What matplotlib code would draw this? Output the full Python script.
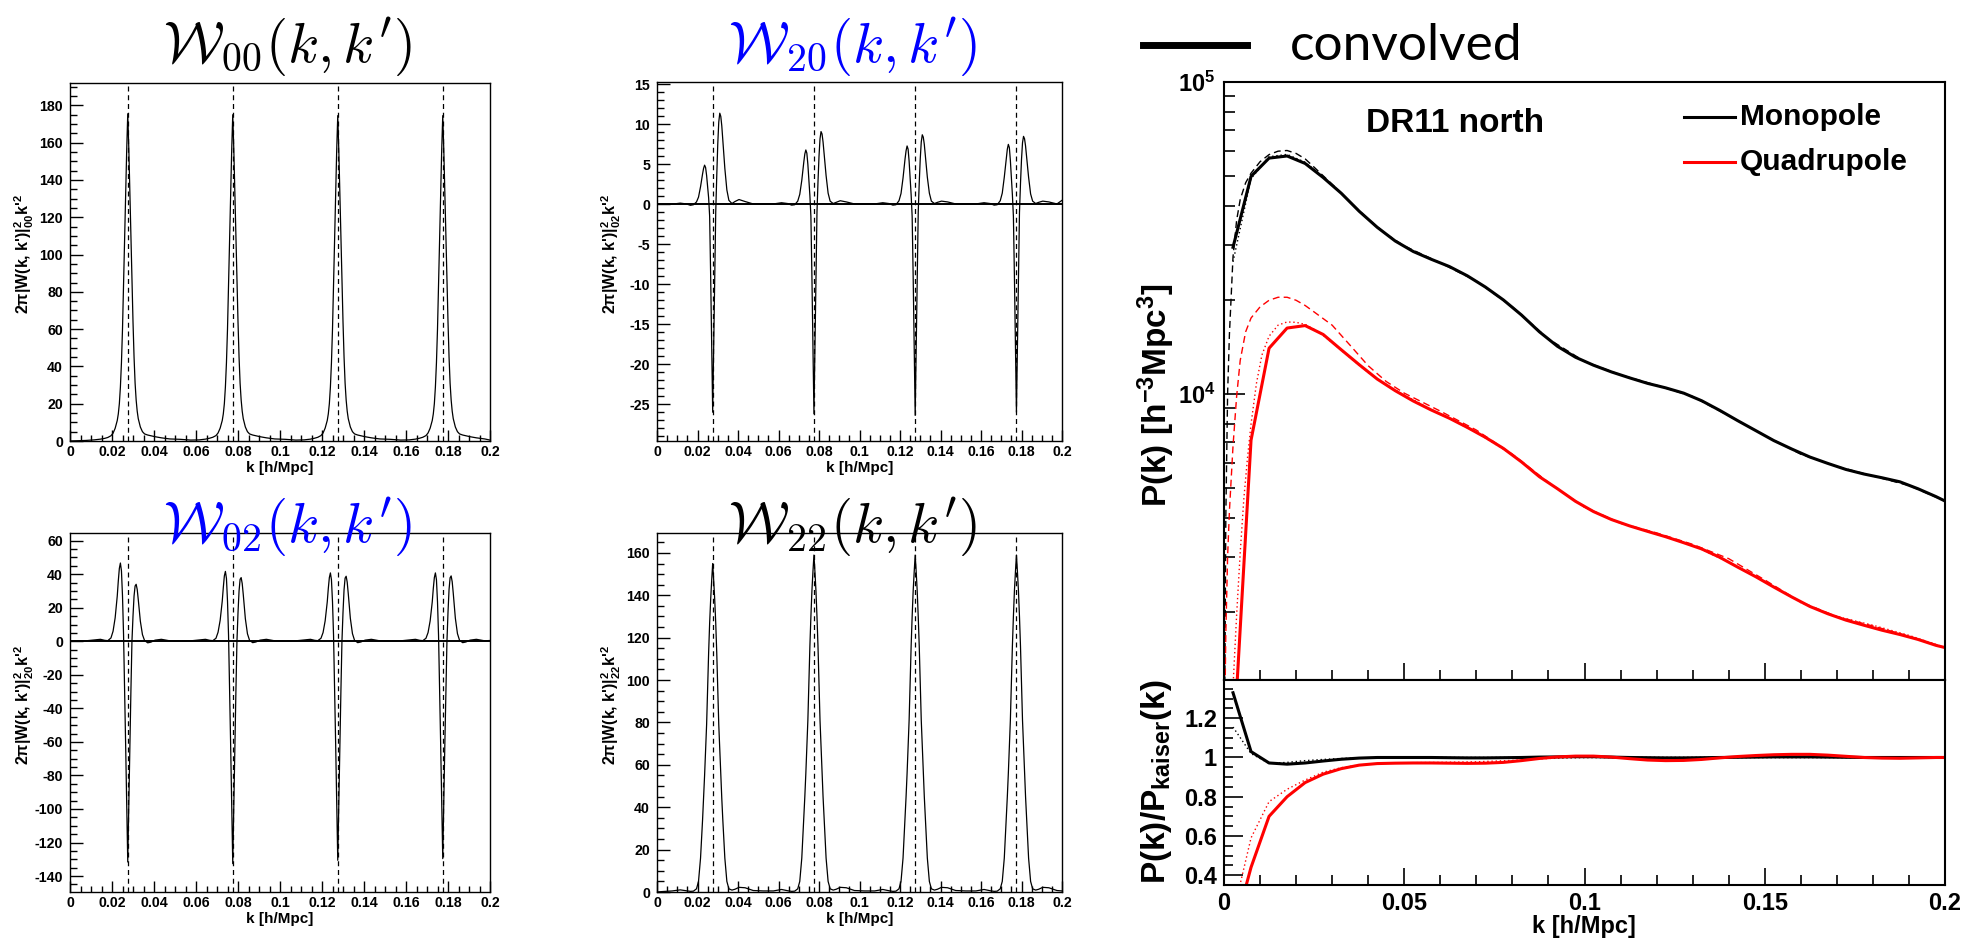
import math
import matplotlib
matplotlib.use('Agg')
import matplotlib.pyplot as plt
from matplotlib.lines import Line2D
from matplotlib.ticker import MultipleLocator, FixedLocator, FuncFormatter, NullFormatter, LogLocator

plt.rcParams.update({
    'font.family': ['Liberation Sans', 'DejaVu Sans'],
    'font.weight': 'bold',
    'axes.unicode_minus': False,
    'mathtext.fontset': 'custom',
    'mathtext.rm': 'Liberation Sans:bold',
    'mathtext.it': 'Liberation Sans:bold',
    'mathtext.bf': 'Liberation Sans:bold',
    'mathtext.default': 'rm',
})

# ---------------- window functions (left 2x2) ----------------
k_prime = [0.0275, 0.0775, 0.1275, 0.1775]
# offsets from k' at which the window curves were read
offsets = [-0.025, -0.02, -0.016, -0.013, -0.011, -0.0095, -0.008, -0.007, -0.006, -0.005,
           -0.0045, -0.004, -0.0035, -0.003, -0.0025, -0.002, -0.0015, -0.001, -0.0005, 0.0,
           0.0005, 0.001, 0.0015, 0.002, 0.0025, 0.003, 0.0035, 0.004, 0.0045, 0.005,
           0.006, 0.007, 0.008, 0.0095, 0.011, 0.013, 0.016, 0.02]

w00_peaks = [
    [0.1, 0.3, 0.6, 1.0, 1.4, 1.9, 2.8, 4.2, 6.8, 11, 14.5, 20, 29, 42, 60, 84, 108, 133, 156, 175.5,
     157, 134, 110, 86, 64, 45, 31, 22, 16, 12, 7.5, 5, 3.8, 3.2, 2.8, 2.3, 1.7, 1.1],
    [0.9, 0.5, 0.6, 1.0, 1.5, 2.0, 2.9, 4.3, 6.9, 11, 14.5, 20, 29, 42, 60, 84, 108, 133, 156, 175,
     156.5, 133.5, 110, 86, 64, 45, 31, 22, 16, 12, 7.5, 5, 3.8, 3.2, 2.8, 2.3, 1.7, 1.1],
    [0.9, 0.5, 0.6, 1.0, 1.5, 2.0, 2.9, 4.3, 6.9, 11, 14.5, 20, 29, 42, 60, 84, 108, 133, 156, 174.5,
     156, 133, 110, 86, 64, 45, 31, 22, 16, 12, 7.5, 5, 3.8, 3.2, 2.8, 2.3, 1.7, 1.1],
    [0.9, 0.5, 0.6, 1.0, 1.5, 2.0, 2.9, 4.3, 6.9, 11, 14.5, 20, 29, 42, 60, 84, 108, 133, 156, 174.5,
     156, 133, 110, 86, 64, 45, 31, 22, 16, 12, 7.5, 5, 3.8, 3.2, 2.8, 2.3, 1.7, 1.1],
]
w20_peaks = [
    [0.0, 0.02, 0.15, 0.05, -0.12, -0.05, 0.3, 0.9, 2.2, 3.8, 4.5, 4.9, 4.6, 3.6, 2.2, 0.8, -1.5, -9, -17.5, -26,
     -17.5, -9, -1, 3.5, 7.5, 10.3, 11.4, 11.0, 9.8, 8.0, 4.5, 1.8, 0.5, 0.1, 0.35, 0.6, 0.35, 0.05],
    [0.05, 0.05, 0.2, 0.1, -0.1, -0.05, 0.4, 1.25, 3.0, 5.3, 6.3, 6.8, 6.4, 5.0, 3.0, 1.1, -1.5, -9, -17.6, -26.2,
     -17.6, -9, -1, 2.8, 6.0, 8.2, 9.1, 8.8, 7.8, 6.4, 3.6, 1.4, 0.4, 0.1, 0.25, 0.45, 0.3, 0.05],
    [0.05, 0.05, 0.2, 0.1, -0.1, -0.05, 0.45, 1.35, 3.3, 5.7, 6.7, 7.3, 6.9, 5.4, 3.3, 1.2, -1.5, -9, -17.7, -26.4,
     -17.7, -9, -1, 2.7, 5.7, 7.8, 8.7, 8.4, 7.5, 6.1, 3.4, 1.4, 0.4, 0.1, 0.25, 0.4, 0.3, 0.05],
    [0.05, 0.05, 0.2, 0.1, -0.1, -0.05, 0.45, 1.4, 3.4, 5.8, 6.9, 7.5, 7.1, 5.5, 3.4, 1.2, -1.5, -9, -17.5, -26,
     -17.5, -9, -1, 2.6, 5.6, 7.7, 8.5, 8.2, 7.3, 6.0, 3.4, 1.3, 0.4, 0.1, 0.25, 0.4, 0.3, 0.05],
]
w02_peaks = [
    [0.2, 0.3, 0.8, 1.2, 0.6, 0.4, 2, 6, 14, 27, 36, 43.5, 46.7, 42, 27, 4, -28, -62, -97, -131.6,
     -97, -62, -30, 0, 15, 27, 33, 34, 31, 25, 12, 4, 0.5, -0.9, -0.5, 0.7, 1.2, 0.3],
    [0.2, 0.3, 0.8, 1.2, 0.6, 0.4, 1.8, 5.4, 12.5, 24, 32, 39, 41.7, 37.5, 24, 3.5, -28, -62, -98, -132.6,
     -98, -62, -30, 0, 17, 30, 37, 38, 34.5, 28, 13.5, 4.5, 0.6, -0.8, -0.4, 0.7, 1.2, 0.3],
    [0.2, 0.3, 0.8, 1.2, 0.6, 0.4, 1.8, 5.2, 12.2, 23.5, 31.5, 38, 40.8, 36.7, 23.5, 3.4, -28, -61, -96, -130.6,
     -96, -61, -30, 0, 17.2, 30.7, 37.7, 38.8, 35.3, 28.5, 13.7, 4.6, 0.6, -0.8, -0.4, 0.7, 1.2, 0.3],
    [0.2, 0.3, 0.8, 1.2, 0.6, 0.4, 1.8, 5.2, 12.2, 23.5, 31.5, 38, 40.8, 36.7, 23.5, 3.4, -28, -61, -95, -129.6,
     -95, -61, -30, 0, 17.3, 30.9, 37.9, 39, 35.5, 28.7, 13.8, 4.6, 0.6, -0.8, -0.4, 0.7, 1.2, 0.3],
]
w22_peaks = [
    [0.2, 0.5, 1.0, 0.6, 0.3, 0.4, 1.5, 5, 16, 34, 44, 55, 67, 79, 96, 113, 127, 138, 147, 155,
     147, 138, 127, 113, 96, 79, 67, 55, 44, 34, 16, 5, 1.5, 0.9, 1.3, 2.2, 2.0, 0.7],
    [0.5, 0.5, 1.2, 0.6, 0.3, 0.4, 1.5, 5, 16, 35, 45, 56, 69, 81, 98, 116, 130, 142, 151, 159,
     151, 142, 130, 116, 98, 81, 69, 56, 45, 35, 16, 5, 1.5, 0.9, 1.3, 2.2, 2.0, 0.7],
    [0.5, 0.5, 1.2, 0.6, 0.3, 0.4, 1.5, 5, 16, 35, 45, 56, 69, 81, 98, 116, 130, 142, 151, 159,
     151, 142, 130, 116, 98, 81, 69, 56, 45, 35, 16, 5, 1.5, 0.9, 1.3, 2.2, 2.0, 0.7],
    [0.5, 0.5, 1.2, 0.6, 0.3, 0.4, 1.5, 5, 16, 35, 45, 56, 69, 81, 98, 116, 130, 142, 151, 159,
     151, 142, 130, 116, 98, 81, 69, 56, 45, 35, 16, 5, 1.5, 0.9, 1.3, 2.2, 2.0, 0.7],
]

# ---------------- power spectra (right) ----------------
k_conv = [0.0025, 0.0075, 0.0125, 0.0175, 0.0225, 0.0275, 0.0325, 0.0375, 0.0425, 0.0475,
          0.0525, 0.0575, 0.0625, 0.0675, 0.0725, 0.0775, 0.0825, 0.0875, 0.0925, 0.0975,
          0.1025, 0.1075, 0.1125, 0.1175, 0.1225, 0.1275, 0.1325, 0.1375, 0.1425, 0.1475,
          0.1525, 0.1575, 0.1625, 0.1675, 0.1725, 0.1775, 0.1825, 0.1875, 0.1925, 0.1975, 0.2]
mono_conv = [29500, 49800, 57000, 57900, 54800, 49400, 44000, 38500, 34200, 30900,
             28600, 27000, 25600, 23900, 22000, 20000, 17900, 15800, 14200, 13100,
             12350, 11750, 11250, 10800, 10450, 10050, 9500, 8850, 8200, 7620,
             7080, 6650, 6270, 5980, 5720, 5530, 5380, 5220, 4960, 4680, 4530]
quad_conv = [700, 7100, 14000, 16250, 16550, 15500, 13850, 12400, 11150, 10230,
             9480, 8870, 8350, 7800, 7250, 6680, 6050, 5420, 4960, 4520,
             4190, 3950, 3770, 3620, 3480, 3330, 3180, 2990, 2780, 2590,
             2400, 2230, 2080, 1970, 1880, 1810, 1745, 1690, 1630, 1560, 1535]

k_mono_dot = [0.0025, 0.0075, 0.0125, 0.0175, 0.0225, 0.0275, 0.0325, 0.0375, 0.0425, 0.0475, 0.0525]
mono_dot = [26500, 49000, 57600, 58600, 55300, 49700, 44100, 38500, 34200, 30900, 28600]

k_kaiser = [0.0002, 0.0005, 0.001, 0.0015, 0.0025, 0.0035, 0.0045, 0.006, 0.0075, 0.01,
            0.0125, 0.015, 0.0175, 0.02, 0.0225, 0.025, 0.03, 0.035, 0.04, 0.045,
            0.05, 0.06, 0.07, 0.08, 0.09, 0.1, 0.11, 0.12, 0.13, 0.14,
            0.15, 0.16, 0.17, 0.18, 0.19, 0.2]
mono_kaiser = [1000, 4000, 10000, 15500, 27500, 36000, 42000, 47500, 51000, 55500,
               58500, 60000, 60300, 59000, 56700, 53300, 47000, 41200, 36300, 32500,
               29800, 26300, 23000, 19000, 15000, 12700, 11500, 10650, 9800, 8500,
               7350, 6400, 5850, 5450, 5080, 4530]
quad_kaiser = [900, 1700, 3000, 4200, 6800, 9800, 12800, 15800, 17500, 19000,
               19950, 20400, 20400, 19950, 19200, 18300, 16600, 14300, 12300, 10950,
               10050, 8800, 7650, 6400, 5200, 4330, 3850, 3580, 3290, 2960,
               2530, 2150, 1930, 1800, 1670, 1535]

k_quad_dot = [0.0025, 0.0035, 0.0045, 0.0055, 0.0065, 0.0075, 0.009, 0.0105, 0.0125, 0.015,
              0.0175, 0.02, 0.0225, 0.025, 0.0275, 0.03, 0.035, 0.04, 0.045, 0.05,
              0.06, 0.07, 0.08, 0.09, 0.1, 0.11, 0.12, 0.13, 0.14, 0.15,
              0.16, 0.17, 0.18, 0.19, 0.2]
quad_dot = [1150, 1950, 3100, 4600, 6200, 8000, 10800, 13300, 15300, 16600,
            17000, 16950, 16700, 16100, 15400, 14600, 13050, 11700, 10700, 9900,
            8620, 7520, 6380, 5180, 4330, 3840, 3550, 3270, 2880, 2500,
            2140, 1930, 1810, 1680, 1535]

# ratio to Kaiser
ratio_mono = [1.33, 1.03, 0.972, 0.966, 0.972, 0.982, 0.991, 0.997, 1.0, 1.0,
              1.0, 1.0, 0.999, 0.998, 0.998, 0.999, 1.0, 1.002, 1.003, 1.004,
              1.004, 1.002, 1.0, 0.999, 0.998, 0.998, 0.999, 1.0, 1.001, 1.002,
              1.003, 1.003, 1.003, 1.002, 1.001, 1.0, 1.0, 1.0, 1.0, 1.0, 1.0]
ratio_quad = [0.10, 0.44, 0.70, 0.80, 0.872, 0.915, 0.943, 0.961, 0.969, 0.971,
              0.972, 0.972, 0.971, 0.970, 0.971, 0.975, 0.984, 0.995, 1.003, 1.007,
              1.007, 1.002, 0.994, 0.987, 0.984, 0.985, 0.990, 0.998, 1.005, 1.010,
              1.014, 1.016, 1.016, 1.012, 1.006, 1.0, 0.997, 0.996, 0.998, 1.0, 1.0]
k_ratio_dot = [0.0025, 0.0075, 0.0125, 0.0175, 0.0225, 0.0275, 0.0325, 0.0375, 0.0425, 0.05,
               0.06, 0.07, 0.08, 0.09, 0.1, 0.15, 0.2]
ratio_mono_dot = [1.155, 1.02, 0.97, 0.975, 0.984, 0.99, 0.995, 0.998, 1.0, 1.0,
                  1.0, 1.0, 1.0, 1.0, 1.0, 1.0, 1.0]
ratio_quad_dot = [0.2, 0.59, 0.775, 0.838, 0.885, 0.925, 0.948, 0.962, 0.969, 0.973,
                  0.975, 0.978, 0.985, 0.995, 1.0, 1.0, 1.0]

W, H = 1978, 941
fig = plt.figure(figsize=(W / 100, H / 100), dpi=100)


def box(x0, y0, x1, y1):
    # axes from pixel box (y measured from top)
    return fig.add_axes([x0 / W, 1 - y1 / H, (x1 - x0) / W, (y1 - y0) / H])


gfmt = FuncFormatter(lambda v, p: '%g' % round(v, 6))
k_small = [0.0] + [kp + o for kp in k_prime for o in offsets] + [0.2]

small = [
    (70, 83, 490, 441, w00_peaks, (0, 192), 20, 5, '00', 'black', '00', 288, 62),
    (657, 82, 1062, 441, w20_peaks, (-29.6, 15.3), 5, 1, '20', '#0000ff', '02', 853, 62),
    (70, 533, 490, 892, w02_peaks, (-149.5, 64.6), 20, 5, '02', '#0000ff', '20', 288, 542),
    (657, 533, 1062, 892, w22_peaks, (0, 169.4), 20, 5, '22', 'black', '22', 853, 542),
]
for x0, y0, x1, y1, peaks, ylim, ymaj, ymin, tsub, tcol, sub, tx, ty in small:
    ax = box(x0, y0, x1, y1)
    vals = [0.0] + [v for pk in peaks for v in pk] + [0.5]
    for kp in k_prime:
        ax.axvline(kp, color='black', lw=0.9, ls=(0, (4, 3)))
    if ylim[0] < 0:
        ax.axhline(0, color='black', lw=1.4)
    ax.plot(k_small, vals, color='black', lw=0.9)
    ax.set_xlim(0, 0.2)
    ax.set_ylim(*ylim)
    ax.xaxis.set_major_locator(MultipleLocator(0.02))
    ax.xaxis.set_minor_locator(MultipleLocator(0.005))
    ax.yaxis.set_major_locator(MultipleLocator(ymaj))
    ax.yaxis.set_minor_locator(MultipleLocator(ymin))
    ax.xaxis.set_major_formatter(gfmt)
    ax.yaxis.set_major_formatter(gfmt)
    ax.tick_params(axis='both', which='both', direction='in', top=False, right=False, width=1.0)
    ax.tick_params(axis='y', which='major', length=9.4, pad=5, labelsize=10.2)
    ax.tick_params(axis='y', which='minor', length=5)
    ax.tick_params(axis='x', which='major', length=8, pad=3, labelsize=10.2)
    ax.tick_params(axis='x', which='minor', length=4)
    for s in ax.spines.values():
        s.set_linewidth(1.0)
    fig.text((x0 + x1) / 2 / W, 1 - (y1 + 27) / H, 'k [h/Mpc]', ha='center', va='center', fontsize=11)
    fig.text((x0 - 46) / W, 1 - ((y0 + y1) / 2 - 8) / H,
             r"2$\pi$|W(k, k')$|^{2}_{%s}$k'$^{2}$" % sub,
             rotation=90, ha='center', va='center', fontsize=11.5)
    title = r'$\mathcal{W}_{%s}(\mathit{k},\mathit{k}^\prime)$' % tsub
    fig.text(tx / W, 1 - ty / H, title, math_fontfamily='cm', fontsize=41, color=tcol,
             ha='center', va='baseline', fontweight='normal')

# ---------------- right panel ----------------
red = '#ff0000'
axp = box(1224, 82, 1945, 680)
axp.plot(k_kaiser, mono_kaiser, color='black', lw=1.0, ls=(0, (5, 3)))
axp.plot(k_mono_dot, mono_dot, color='black', lw=1.0, ls=(0, (1, 2)))
axp.plot(k_conv, mono_conv, color='black', lw=2.2)
axp.plot(k_kaiser, quad_kaiser, color=red, lw=1.0, ls=(0, (5, 3)))
axp.plot(k_quad_dot, quad_dot, color=red, lw=1.0, ls=(0, (1, 2)))
axp.plot(k_conv, quad_conv, color=red, lw=2.2)
axp.set_yscale('log')
axp.set_xlim(0, 0.2)
axp.set_ylim(1208, 1e5)
axp.yaxis.set_major_locator(FixedLocator([1e4, 1e5]))
axp.yaxis.set_major_formatter(FuncFormatter(lambda v, p: r'$10^{%d}$' % round(math.log10(v))))
axp.yaxis.set_minor_locator(LogLocator(base=10, subs=[2, 3, 4, 5, 6, 7, 8, 9]))
axp.yaxis.set_minor_formatter(NullFormatter())
axp.xaxis.set_major_locator(MultipleLocator(0.05))
axp.xaxis.set_minor_locator(MultipleLocator(0.01))
axp.xaxis.set_major_formatter(NullFormatter())
axp.tick_params(axis='both', which='both', direction='in', top=False, right=False, width=1.2)
axp.tick_params(axis='y', which='major', length=15, pad=6, labelsize=17)
axp.tick_params(axis='y', which='minor', length=8)
axp.tick_params(axis='x', which='major', length=12)
axp.tick_params(axis='x', which='minor', length=7)
for s in axp.spines.values():
    s.set_linewidth(1.5)
axp.text(0.197, 0.93, 'DR11 north', transform=axp.transAxes, fontsize=24, va='center', ha='left')

axr = box(1224, 680, 1945, 885)
axr.plot(k_ratio_dot, ratio_mono_dot, color='black', lw=1.0, ls=(0, (1, 2)))
axr.plot(k_ratio_dot, ratio_quad_dot, color=red, lw=1.0, ls=(0, (1, 2)))
axr.plot(k_conv, ratio_mono, color='black', lw=2.2)
axr.plot(k_conv, ratio_quad, color=red, lw=2.2)
axr.set_xlim(0, 0.2)
axr.set_ylim(0.35, 1.395)
axr.xaxis.set_major_locator(MultipleLocator(0.05))
axr.xaxis.set_minor_locator(MultipleLocator(0.01))
axr.yaxis.set_major_locator(MultipleLocator(0.2))
axr.yaxis.set_minor_locator(MultipleLocator(0.05))
axr.xaxis.set_major_formatter(gfmt)
axr.yaxis.set_major_formatter(gfmt)
axr.tick_params(axis='both', which='both', direction='in', top=False, right=False, width=1.2)
axr.tick_params(axis='y', which='major', length=13.7, pad=5, labelsize=17)
axr.tick_params(axis='y', which='minor', length=6.5)
axr.tick_params(axis='x', which='major', length=12, pad=5, labelsize=17)
axr.tick_params(axis='x', which='minor', length=7)
for s in axr.spines.values():
    s.set_linewidth(1.5)

fig.text(1156 / W, 1 - 395 / H, r'P(k) [h$^{-3}$Mpc$^{3}$]', rotation=90, ha='center', va='center', fontsize=24)
fig.text(1156 / W, 1 - 782 / H, r'P(k)/P$_{kaiser}$(k)', rotation=90, ha='center', va='center', fontsize=24)
fig.text(1584 / W, 1 - 927 / H, 'k [h/Mpc]', ha='center', va='center', fontsize=17)

# legend
fig.add_artist(Line2D([1684 / W, 1735 / W], [1 - 117 / H, 1 - 117 / H], color='black', lw=2.2))
fig.add_artist(Line2D([1684 / W, 1735 / W], [1 - 161.5 / H, 1 - 161.5 / H], color=red, lw=2.2))
fig.text(1740 / W, 1 - 117 / H, 'Monopole', fontsize=21.5, va='center', ha='left')
fig.text(1740 / W, 1 - 161.5 / H, 'Quadrupole', fontsize=21.5, va='center', ha='left')

# "convolved" key at the top
fig.add_artist(Line2D([1143 / W, 1247 / W], [1 - 45 / H, 1 - 45 / H], color='black', lw=5))
fig.text(1290 / W, 1 - 60 / H, 'convolved', fontsize=37, family=['Lato', 'DejaVu Sans'],
         fontweight='normal', va='baseline', ha='left')

fig.savefig('out.png', dpi=100)
